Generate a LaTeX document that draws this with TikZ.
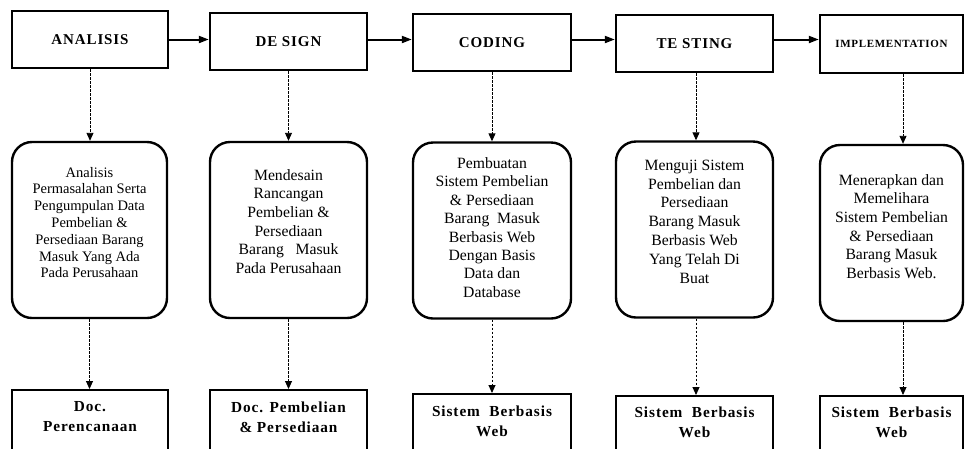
\documentclass[tikz,border=0pt]{standalone}
\usepackage{fontspec}
\setmainfont{Liberation Serif}
\newfontfamily\headfont{Liberation Serif}[LetterSpace=6]
\usetikzlibrary{arrows.meta}
\begin{document}
\begin{tikzpicture}[x=1pt,y=-1pt,
  box/.style={draw, line width=2.4pt, inner sep=0pt},
  topbox/.style={box, minimum height=57pt, font=\headfont\bfseries\fontsize{15}{18}\selectfont},
  midbox/.style={box, rounded corners=20pt, minimum height=176pt},
  botbox/.style={box, minimum height=70pt, anchor=north},
  midtext/.style={align=center, inner sep=0pt, font=\fontsize{15.7}{18.6}\selectfont},
  bottext/.style={align=center, inner sep=0pt, font=\headfont\bfseries\fontsize{15.3}{20}\selectfont},
  flow/.style={line width=2pt, -{Triangle[length=10pt,width=7pt]}},
  dflow/.style={line width=0.9pt, dash pattern=on 2.5pt off 1.5pt, -{Triangle[length=8pt,width=7pt]}},
]
\useasboundingbox (0,0) rectangle (965,448);

% top row
\node[topbox, minimum width=156pt] (t1) at (90,39.5) {ANALISIS};
\node[topbox, minimum width=157pt] (t2) at (288.5,41.5) {DE SIGN};
\node[topbox, minimum width=158pt] (t3) at (492,42.5) {CODING};
\node[topbox, minimum width=157pt] (t4) at (694.5,43.5) {TE STING};
\node[topbox, minimum width=143pt, minimum height=58pt, font=\headfont\bfseries\fontsize{11}{13}\selectfont] (t5) at (891.5,44) {IMPLEMENTATION};

% middle row
\node[midbox, minimum width=155pt] (m1) at (89.5,230) {};
\node[midbox, minimum width=157pt] (m2) at (288.5,230) {};
\node[midbox, minimum width=158pt] (m3) at (492,230.5) {};
\node[midbox, minimum width=157pt] (m4) at (694.5,229.5) {};
\node[midbox, minimum width=143pt] (m5) at (891.5,233) {};

\node[midtext, font=\fontsize{14.5}{16.8}\selectfont] (m1t) at ([yshift=7.5pt]m1.center)
  {Analisis\\Permasalahan Serta\\Pengumpulan Data\\Pembelian \&\\Persediaan Barang\\Masuk Yang Ada\\Pada Perusahaan};
\node[midtext] (m2t) at ([yshift=8.5pt]m2.center)
  {Mendesain\\Rancangan\\Pembelian \&\\Persediaan\\Barang\ \ \ Masuk\\Pada Perusahaan};
\node[midtext, font=\fontsize{15.7}{18.4}\selectfont] (m3t) at ([yshift=3pt]m3.center)
  {Pembuatan\\Sistem Pembelian\\\& Persediaan\\Barang\ \ Masuk\\Berbasis Web\\Dengan Basis\\Data dan\\Database};
\node[midtext, font=\fontsize{15.7}{18.8}\selectfont] (m4t) at ([yshift=8pt]m4.center)
  {Menguji Sistem\\Pembelian dan\\Persediaan\\Barang Masuk\\Berbasis Web\\Yang Telah Di\\Buat};
\node[midtext] (m5t) at ([yshift=6.5pt]m5.center)
  {Menerapkan dan\\Memelihara\\Sistem Pembelian\\\& Persediaan\\Barang Masuk\\Berbasis Web.};

% bottom row
\node[botbox, minimum width=156pt] (b1) at (90,389) {};
\node[botbox, minimum width=157pt] (b2) at (288.5,389) {};
\node[botbox, minimum width=158pt] (b3) at (492,393) {};
\node[botbox, minimum width=157pt] (b4) at (694.5,395) {};
\node[botbox, minimum width=143pt] (b5) at (891.5,395) {};

\node[bottext] (b1t) at ([yshift=-28pt]b1.north) {Doc.\\Perencanaan};
\node[bottext] (b2t) at ([yshift=-28pt]b2.north) {Doc. Pembelian\\\& Persediaan};
\node[bottext] (b3t) at ([yshift=-28pt]b3.north) {Sistem\ \ Berbasis\\Web};
\node[bottext] (b4t) at ([yshift=-27pt]b4.north) {Sistem\ \ Berbasis\\Web};
\node[bottext] (b5t) at ([yshift=-27pt]b5.north) {Sistem\ \ Berbasis\\Web};

% horizontal flow
\draw[flow] (t1.east) -- (t1.east -| t2.west);
\draw[flow] (t2.east |- t1.east) -- (t3.west |- t1.east);
\draw[flow] (t3.east |- t1.east) -- (t4.west |- t1.east);
\draw[flow] (t4.east |- t1.east) -- (t5.west |- t1.east);

% dashed verticals
\draw[dflow] (t1.south) -- (t1.south |- m1.north);
\draw[dflow] (t2.south) -- (t2.south |- m2.north);
\draw[dflow] (t3.south) -- (t3.south |- m3.north);
\draw[dflow] ([xshift=1.5pt]t4.south) -- ([xshift=1.5pt]t4.south |- m4.north);
\draw[dflow] ([xshift=11.5pt]t5.south) -- ([xshift=11.5pt]t5.south |- m5.north);

\draw[dflow] (m1.south) -- (m1.south |- b1.north);
\draw[dflow] (m2.south) -- (m2.south |- b2.north);
\draw[dflow] (m3.south) -- (m3.south |- b3.north);
\draw[dflow] ([xshift=1.5pt]m4.south) -- ([xshift=1.5pt]m4.south |- b4.north);
\draw[dflow] ([xshift=11.5pt]m5.south) -- ([xshift=11.5pt]m5.south |- b5.north);
\end{tikzpicture}
\end{document}
